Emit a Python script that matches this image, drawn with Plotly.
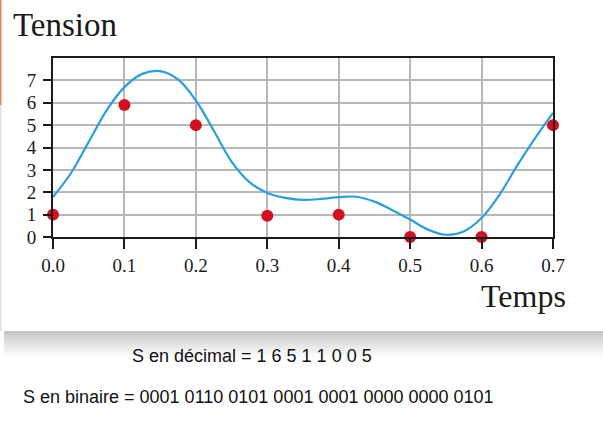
import plotly.graph_objects as go

# sampled values (red dots)
t_samples = [0.0, 0.1, 0.2, 0.3, 0.4, 0.5, 0.6, 0.7]
v_samples = [1.0, 5.9, 5.0, 0.95, 1.0, 0.0, 0.0, 5.0]

# analog signal (blue curve), every 0.025 s
t_signal = [0.0, 0.025, 0.05, 0.075, 0.1, 0.125, 0.15, 0.175, 0.2, 0.225,
            0.25, 0.275, 0.3, 0.325, 0.35, 0.375, 0.4, 0.425, 0.45, 0.475,
            0.5, 0.525, 0.55, 0.575, 0.6, 0.625, 0.65, 0.675, 0.7]
v_signal = [1.79, 2.85, 4.25, 5.66, 6.7, 7.29, 7.41, 7.04, 6.1, 4.76,
            3.37, 2.45, 1.97, 1.75, 1.66, 1.7, 1.78, 1.8, 1.58, 1.2,
            0.78, 0.33, 0.1, 0.25, 0.85, 1.88, 3.2, 4.42, 5.55]

x_ticks = [0.0, 0.1, 0.2, 0.3, 0.4, 0.5, 0.6, 0.7]
x_labels = ["0.0", "0.1", "0.2", "0.3", "0.4", "0.5", "0.6", "0.7"]
y_ticks = [0, 1, 2, 3, 4, 5, 6, 7]

decimal_line = "S en décimal = " + " ".join(str(int(round(v))) for v in v_samples)
binary_line = "S en binaire = " + " ".join(format(int(round(v)), "04b") for v in v_samples)

W, H = 603, 446
L, R, T, B = 53, 50, 58, 209
pw, ph = W - L - R, H - T - B


def px(x):
    return (x - L) / pw


def py(y):
    return (H - B - y) / ph


fig = go.Figure()

fig.add_trace(go.Scatter(
    x=t_signal, y=v_signal, mode="lines",
    line=dict(color="#2a9fe0", width=2.2, shape="spline", smoothing=1.0),
    hoverinfo="skip",
))
fig.add_trace(go.Scatter(
    x=t_samples, y=v_samples, mode="markers", cliponaxis=False,
    marker=dict(color="#d3101f", size=12), hoverinfo="skip",
))

shapes = []
# card shadow, faked with thin grey strips
n = 14
for i in range(n):
    g = int(196 + (255 - 196) * (i / (n - 1)) ** 0.8)
    shapes.append(dict(
        type="rect", xref="paper", yref="paper", layer="below",
        x0=px(4), x1=px(603), y0=py(331 + 2 * i), y1=py(333 + 2 * i),
        line=dict(width=0), fillcolor=f"rgb({g},{g},{g})",
    ))
# left edge of the card
shapes.append(dict(type="rect", xref="paper", yref="paper", layer="below",
                   x0=px(0), x1=px(1.5), y0=py(105), y1=py(0),
                   line=dict(width=0), fillcolor="#e8895c"))
shapes.append(dict(type="rect", xref="paper", yref="paper", layer="below",
                   x0=px(0), x1=px(1.5), y0=py(331), y1=py(105),
                   line=dict(width=0), fillcolor="#e2e2e2"))

serif = "Liberation Serif"
annotations = [
    dict(text="Tension", xref="paper", yref="paper", x=px(11), y=py(5),
         xanchor="left", yanchor="top", showarrow=False,
         font=dict(family=serif, size=33, color="#1a1a1a")),
    dict(text="Temps", xref="paper", yref="paper", x=px(568), y=py(276),
         xanchor="right", yanchor="top", showarrow=False,
         font=dict(family=serif, size=32, color="#1a1a1a")),
    dict(text=decimal_line, xref="paper", yref="paper", x=px(252), y=py(356),
         xanchor="center", yanchor="middle", showarrow=False,
         font=dict(family="Liberation Sans", size=18, color="#111111")),
    dict(text=binary_line, xref="paper", yref="paper", x=px(258), y=py(397),
         xanchor="center", yanchor="middle", showarrow=False,
         font=dict(family="Liberation Sans", size=18, color="#111111")),
]

fig.update_layout(
    width=W, height=H,
    margin=dict(l=L, r=R, t=T, b=B),
    paper_bgcolor="white", plot_bgcolor="white",
    showlegend=False,
    shapes=shapes, annotations=annotations,
    xaxis=dict(
        range=[0, 0.7], tickvals=x_ticks, ticktext=x_labels,
        showgrid=True, gridcolor="#b8b8b8", gridwidth=2,
        showline=True, linecolor="#1a1a1a", linewidth=2, mirror=True,
        ticks="outside", ticklen=10, tickwidth=2, tickcolor="#1a1a1a",
        ticklabelstandoff=0,
        tickfont=dict(family=serif, size=19, color="#1a1a1a"),
        zeroline=False, fixedrange=True,
    ),
    yaxis=dict(
        range=[0, 8], tickvals=y_ticks,
        showgrid=True, gridcolor="#b8b8b8", gridwidth=2,
        showline=True, linecolor="#1a1a1a", linewidth=2, mirror=True,
        ticks="outside", ticklen=8, tickwidth=2, tickcolor="#1a1a1a",
        ticklabelstandoff=3,
        tickfont=dict(family=serif, size=19, color="#1a1a1a"),
        zeroline=False, fixedrange=True,
    ),
)

# the page's default body margin would push the figure 8px right and down
fig.write_html("out.html", config={"displayModeBar": False},
               post_script="document.body.style.margin = '0';")
